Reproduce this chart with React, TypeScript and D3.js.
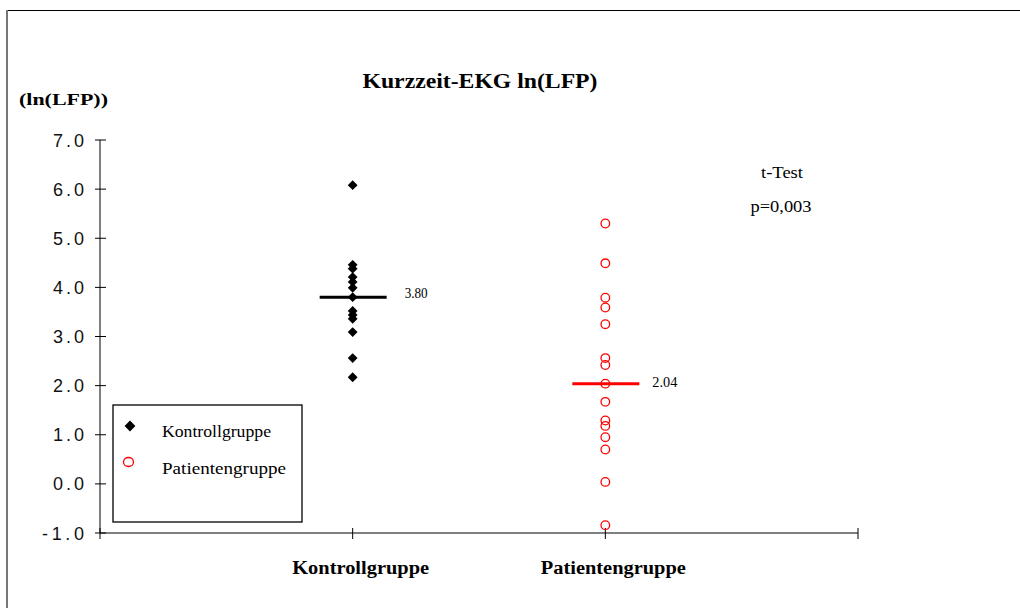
import React from 'react';
import * as d3 from 'd3';

// Groups on the x axis
const categories = ['Kontrollgruppe', 'Patientengruppe'];

// ln(LFP) per subject
const kontrollValues = [6.08, 4.46, 4.38, 4.21, 4.11, 3.99, 3.8, 3.52, 3.44, 3.36, 3.09, 2.56, 2.17];
const patientValues = [5.3, 4.49, 3.79, 3.59, 3.25, 2.56, 2.42, 2.04, 1.67, 1.29, 1.18, 0.95, 0.7, 0.04, -0.84];

// Group means and their labels
const means = [3.8, 2.04];
const meanLabels = ['3.80', '2.04'];

// Y axis ticks and labels
const yTicks = [-1, 0, 1, 2, 3, 4, 5, 6, 7];
const yTickLabels = ['-1.0', '0.0', '1.0', '2.0', '3.0', '4.0', '5.0', '6.0', '7.0'];

const W = 1020;
const H = 608;
const serif = '"Liberation Serif", "Times New Roman", Times, serif';
const sans = '"Liberation Sans", Arial, Helvetica, sans-serif';

export default function App() {
  const y = d3.scaleLinear().domain([-1, 7]).range([533, 140]);
  const x = d3.scaleLinear().domain([0, 3]).range([100, 858]);
  const xTicks = [0, 1, 2, 3];

  const diamond = d3.symbol(d3.symbolSquare, 48)()!;
  const legendDiamond = d3.symbol(d3.symbolSquare, 58)()!;

  const series = [
    { values: kontrollValues, color: '#000', kind: 'diamond' },
    { values: patientValues, color: '#ff0000', kind: 'circle' },
  ];

  return (
    <svg
      width={W}
      height={H}
      style={{ position: 'absolute', left: 0, top: 0, background: '#fff' }}
    >
      <rect x={0} y={0} width={W} height={H} fill="#fff" />
      {/* outer frame (top and left edges) */}
      <line x1={7} y1={10.5} x2={W} y2={10.5} stroke="#000" strokeWidth={1} />
      <line x1={7} y1={10} x2={7} y2={H} stroke="#777" strokeWidth={2} />

      {/* title */}
      <text
        x={480}
        y={88}
        textAnchor="middle"
        fontFamily={serif}
        fontWeight="bold"
        fontSize={20}
        textLength={235}
        lengthAdjust="spacingAndGlyphs"
      >
        Kurzzeit-EKG ln(LFP)
      </text>

      {/* y unit */}
      <text
        x={19}
        y={105}
        fontFamily={serif}
        fontWeight="bold"
        fontSize={17}
        textLength={89}
        lengthAdjust="spacingAndGlyphs"
      >
        (ln(LFP))
      </text>

      {/* y axis */}
      <line x1={x(0)} y1={y(7)} x2={x(0)} y2={y(-1)} stroke="#000" strokeWidth={1} />
      {yTicks.map((t, i) => (
        <g key={t}>
          <line x1={x(0) - 5} x2={x(0) + 6} y1={y(t)} y2={y(t)} stroke="#000" strokeWidth={1} />
          <text
            x={84}
            y={y(t) + 6.5}
            textAnchor="end"
            fontFamily={sans}
            fontSize={18}
            fill="#111"
            textLength={yTickLabels[i].length > 3 ? 42 : 31}
            lengthAdjust="spacing"
          >
            {yTickLabels[i]}
          </text>
        </g>
      ))}

      {/* x axis */}
      <line x1={x(0)} y1={y(-1)} x2={x(3)} y2={y(-1)} stroke="#000" strokeWidth={1} />
      {xTicks.map((t) => (
        <line key={t} x1={x(t)} x2={x(t)} y1={y(-1) - 5} y2={y(-1) + 6} stroke="#000" strokeWidth={1} />
      ))}
      {categories.map((c, i) => (
        <text
          key={c}
          x={x(i + 1) + 8}
          y={574}
          textAnchor="middle"
          fontFamily={serif}
          fontWeight="bold"
          fontSize={18}
          textLength={i === 0 ? 137 : 145}
          lengthAdjust="spacingAndGlyphs"
        >
          {c}
        </text>
      ))}

      {/* subjects */}
      {series.map((s, si) =>
        s.values.map((v, vi) =>
          s.kind === 'diamond' ? (
            <path
              key={`${si}-${vi}`}
              d={diamond}
              transform={`translate(${x(si + 1)},${y(v)}) rotate(45)`}
              fill={s.color}
            />
          ) : (
            <circle
              key={`${si}-${vi}`}
              cx={x(si + 1)}
              cy={y(v)}
              r={4.3}
              fill="none"
              stroke={s.color}
              strokeWidth={1.3}
            />
          )
        )
      )}

      {/* means */}
      {means.map((m, i) => (
        <g key={i}>
          <line
            x1={x(i + 1) - 33}
            x2={x(i + 1) + 34}
            y1={y(m)}
            y2={y(m)}
            stroke={i === 0 ? '#000' : '#ff0000'}
            strokeWidth={3}
          />
          <text
            x={x(i + 1) + (i === 0 ? 52 : 47)}
            y={y(m) + (i === 0 ? 1 : 3)}
            fontFamily={serif}
            fontSize={14}
            fill="#000"
            textLength={i === 0 ? 23 : 25}
            lengthAdjust="spacingAndGlyphs"
          >
            {meanLabels[i]}
          </text>
        </g>
      ))}

      {/* test result */}
      <text x={782} y={178} textAnchor="middle" fontFamily={serif} fontSize={17} textLength={42} lengthAdjust="spacingAndGlyphs">
        t-Test
      </text>
      <text x={781} y={212} textAnchor="middle" fontFamily={serif} fontSize={17} textLength={61} lengthAdjust="spacingAndGlyphs">
        p=0,003
      </text>

      {/* legend */}
      <rect x={113} y={405} width={189} height={117} fill="#fff" stroke="#000" strokeWidth={1.3} />
      <path d={legendDiamond} transform="translate(130,426) rotate(45)" fill="#000" />
      <ellipse cx={128.5} cy={462} rx={5} ry={4.5} fill="none" stroke="#ff0000" strokeWidth={1.3} />
      <text x={162} y={437} fontFamily={serif} fontSize={17} textLength={109} lengthAdjust="spacingAndGlyphs">
        {categories[0]}
      </text>
      <text x={162} y={474} fontFamily={serif} fontSize={17} textLength={124} lengthAdjust="spacingAndGlyphs">
        {categories[1]}
      </text>
    </svg>
  );
}
